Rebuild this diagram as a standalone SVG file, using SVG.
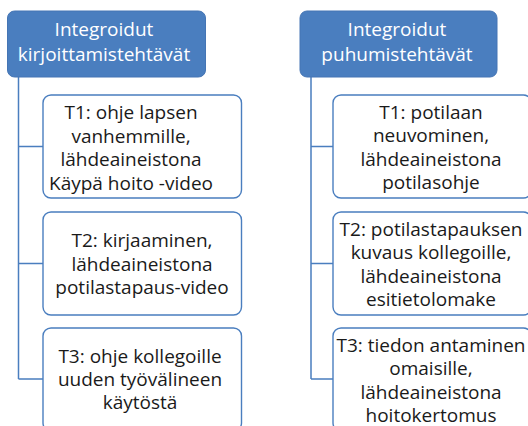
<svg xmlns="http://www.w3.org/2000/svg" width="528" height="426" viewBox="0 0 528 426">
<style>
.hdr{fill:#4a7ebf;stroke:#4575b4;stroke-width:1}
.box{fill:#fff;stroke:#4a7ebf;stroke-width:1.4}
.ht{font-family:"Open Sans","Noto Sans",sans-serif;font-size:19px;fill:#fff;text-anchor:middle}
.bt{font-family:"Open Sans","Noto Sans",sans-serif;font-size:19px;fill:#1a1a1a;text-anchor:middle}
.con{fill:none;stroke:#4a7ebf;stroke-width:1.5}
</style>
<rect width="528" height="426" fill="#fff"/>
<g id="connectors">
<path class="con" d="M18.5,77 V379 M18.5,146.5 H43 M18.5,263.5 H43 M18.5,379 H43"/>
<path class="con" d="M311,77 V379 M311,146.5 H333 M311,263.5 H333 M311,379 H333"/>
</g>
<g id="hdr-left">
<rect class="hdr" x="7.5" y="11" width="198" height="66" rx="7"/>
<text class="ht" x="104" y="36">Integroidut</text>
<text class="ht" x="104" y="61">kirjoittamistehtävät</text>
</g>
<g id="hdr-right">
<rect class="hdr" x="300" y="11" width="197" height="66" rx="7"/>
<text class="ht" x="397" y="36">Integroidut</text>
<text class="ht" x="397" y="61">puhumistehtävät</text>
</g>
<g id="left-t1">
<rect class="box" x="43" y="95" width="198.5" height="103" rx="8"/>
<text class="bt" x="131" y="119">T1: ohje lapsen</text>
<text class="bt" x="131" y="142.5">vanhemmille,</text>
<text class="bt" x="131" y="166">lähdeaineistona</text>
<text class="bt" x="131" y="189.5">Käypä hoito -video</text>
</g>
<g id="left-t2">
<rect class="box" x="43" y="212" width="198.5" height="103" rx="8"/>
<text class="bt" x="142" y="247">T2: kirjaaminen,</text>
<text class="bt" x="142" y="270.5">lähdeaineistona</text>
<text class="bt" x="142" y="294">potilastapaus-video</text>
</g>
<g id="left-t3">
<rect class="box" x="43" y="328" width="198.5" height="103" rx="8"/>
<text class="bt" x="140" y="362.5">T3: ohje kollegoille</text>
<text class="bt" x="140" y="385.5">uuden työvälineen</text>
<text class="bt" x="140" y="408.5">käytöstä</text>
</g>
<g id="right-t1">
<rect class="box" x="333" y="95" width="198.5" height="103" rx="8"/>
<text class="bt" x="431" y="118.5">T1: potilaan</text>
<text class="bt" x="431" y="142">neuvominen,</text>
<text class="bt" x="431" y="165.5">lähdeaineistona</text>
<text class="bt" x="431" y="189">potilasohje</text>
</g>
<g id="right-t2">
<rect class="box" x="333" y="212" width="198.5" height="103" rx="8"/>
<text class="bt" x="431" y="235.5">T2: potilastapauksen</text>
<text class="bt" x="431" y="259">kuvaus kollegoille,</text>
<text class="bt" x="431" y="282.5">lähdeaineistona</text>
<text class="bt" x="431" y="306">esitietolomake</text>
</g>
<g id="right-t3">
<rect class="box" x="333" y="328" width="198.5" height="103" rx="8"/>
<text class="bt" x="431" y="351.5">T3: tiedon antaminen</text>
<text class="bt" x="431" y="375">omaisille,</text>
<text class="bt" x="431" y="398.5">lähdeaineistona</text>
<text class="bt" x="431" y="422">hoitokertomus</text>
</g>
</svg>
